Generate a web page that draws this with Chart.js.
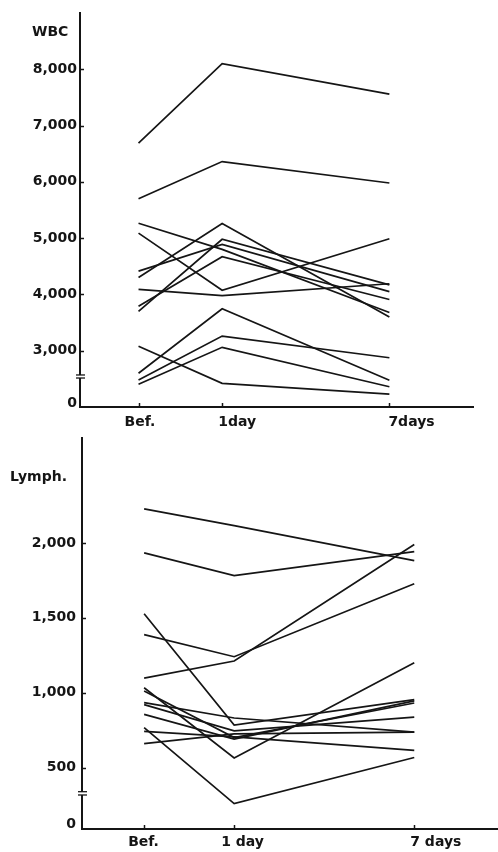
<!DOCTYPE html>
<html>
<head>
<meta charset="utf-8">
<script src="https://cdn.jsdelivr.net/npm/chart.js@4.4.0/dist/chart.umd.min.js"></script>
<style>
html, body { margin: 0; padding: 0; background: #fff; }
#wrap { position: relative; width: 498px; height: 852px; }
.box { position: absolute; left: 0; width: 498px; }
</style>
</head>
<body>
<div id="wrap">
  <div class="box" style="top:0;height:432px"><canvas id="wbcChart"></canvas></div>
  <div class="box" style="top:420px;height:432px"><canvas id="lymphChart"></canvas></div>
</div>
<script>
// time positions (Bef., 1 day, 7 days) on the x axis
const dayPos = [0, 1, 3];
const wbcDayLabels = ["Bef.", "1day", "7days"];
const lymphDayLabels = ["Bef.", "1 day", "7 days"];

// one value per patient (broken axis: "0" sits at the bottom tick)
const wbcBef  = [6690, 5700, 5265, 5090, 4415, 4300, 4090, 3790, 3700, 3080, 2600, 2480, 2405];
const wbcDay1 = [8100, 6360, 4800, 4075, 4890, 5260, 3980, 4670, 4980, 2420, 3745, 3260, 3060];
const wbcDay7 = [7560, 5980, 3680, 4990, 4050, 3600, 4190, 3910, 4170, 2230, 2475, 2875, 2360];

const lymphBef  = [2227, 1933, 1527, 1387, 1097, 1033, 1011, 933, 920, 855, 767, 742, 660];
const lymphDay1 = [2115, 1782, 784, 1240, 1211, 564, 700, 831, 745, 690, 260, 705, 725];
const lymphDay7 = [1882, 1942, 953, 1727, 1989, 1200, 931, 737, 837, 945, 567, 615, 737];

// tick values and their printed labels
const wbcTicks = [2060, 3000, 4000, 5000, 6000, 7000, 8000];
const wbcTickLabels = ["0", "3,000", "4,000", "5,000", "6,000", "7,000", "8,000"];
const lymphTicks = [120, 500, 1000, 1500, 2000];
const lymphTickLabels = ["0", "500", "1,000", "1,500", "2,000"];

const FONT = "'DejaVu Sans', sans-serif";
const INK = "#151515";

function buildDatasets(bef, d1, d7) {
    var sets = [];
    for (var i = 0; i < bef.length; i++) {
        sets.push({
            data: [
                { x: dayPos[0], y: bef[i] },
                { x: dayPos[1], y: d1[i] },
                { x: dayPos[2], y: d7[i] }
            ],
            borderColor: INK,
            borderWidth: 1.7,
            pointRadius: 0,
            tension: 0,
            fill: false
        });
    }
    return sets;
}

// draws the inward tick marks, x labels, axis title and the axis break
const decorPlugin = {
    id: "decor",
    afterDraw(chart, args, opts) {
        const ctx = chart.ctx;
        const xs = chart.scales.x, ys = chart.scales.y;
        const area = chart.chartArea;
        ctx.save();
        ctx.strokeStyle = INK;
        ctx.lineWidth = 1.5;
        // y ticks pointing into the plot
        opts.yTicks.forEach(function (v, i) {
            if (i === 0) return;
            const py = Math.round(ys.getPixelForValue(v)) + 0.5;
            ctx.beginPath();
            ctx.moveTo(area.left, py);
            ctx.lineTo(area.left + 4, py);
            ctx.stroke();
        });
        // x ticks pointing up
        dayPos.forEach(function (v) {
            const px = Math.round(xs.getPixelForValue(v)) + 0.5;
            ctx.beginPath();
            ctx.moveTo(px, area.bottom);
            ctx.lineTo(px, area.bottom - 4);
            ctx.stroke();
        });
        // x labels
        ctx.fillStyle = INK;
        ctx.font = "bold 14px " + FONT;
        ctx.textBaseline = "middle";
        ctx.textAlign = "left";
        opts.xLabels.forEach(function (lab, i) {
            const px = xs.getPixelForValue(dayPos[i]) + opts.xLabelShift[i];
            ctx.fillText(lab, px, area.bottom + opts.xLabelGap);
        });
        // axis title
        ctx.font = "bold 14px " + FONT;
        ctx.fillText(opts.title, opts.titleX, opts.titleY);
        // axis break
        const b1 = ys.getPixelForValue(opts.breakAt[0]);
        const b2 = ys.getPixelForValue(opts.breakAt[1]);
        ctx.fillStyle = "#fff";
        ctx.fillRect(area.left - 2, b1, 4, b2 - b1);
        ctx.lineWidth = 1.3;
        [b1, b2].forEach(function (py) {
            ctx.beginPath();
            ctx.moveTo(area.left - 4, py);
            ctx.lineTo(area.left + 5, py);
            ctx.stroke();
        });
        ctx.restore();
    }
};

function makeChart(canvasId, cfg) {
    const ctx = document.getElementById(canvasId).getContext("2d");
    return new Chart(ctx, {
        type: "line",
        data: { datasets: buildDatasets(cfg.bef, cfg.d1, cfg.d7) },
        plugins: [decorPlugin],
        options: {
            responsive: true,
            maintainAspectRatio: false,
            animation: false,
            layout: { padding: cfg.padding },
            plugins: {
                legend: { display: false },
                tooltip: { enabled: false },
                decor: cfg.decor
            },
            scales: {
                x: {
                    type: "linear",
                    min: cfg.xMin,
                    max: cfg.xMax,
                    ticks: { display: false },
                    grid: { display: true, drawOnChartArea: false, drawTicks: false },
                    border: { color: INK, width: 2 }
                },
                y: {
                    type: "linear",
                    min: cfg.yMin,
                    max: cfg.yMax,
                    afterBuildTicks: function (axis) {
                        axis.ticks = cfg.ticks.map(function (v) { return { value: v }; });
                    },
                    afterFit: function (axis) { axis.width = cfg.yWidth; },
                    ticks: {
                        padding: cfg.tickPad,
                        color: INK,
                        font: { family: FONT, size: 14, weight: "bold" },
                        callback: function (value) {
                            const i = cfg.ticks.indexOf(value);
                            return i >= 0 ? cfg.tickLabels[i] : "";
                        }
                    },
                    grid: { display: true, drawOnChartArea: false, drawTicks: false },
                    border: { color: INK, width: 2 }
                }
            }
        }
    });
}

makeChart("wbcChart", {
    bef: wbcBef, d1: wbcDay1, d7: wbcDay7,
    ticks: wbcTicks, tickLabels: wbcTickLabels,
    xMin: -0.7, xMax: 4.0, yMin: 2000, yMax: 9000,
    yWidth: 80, tickPad: 3,
    padding: { top: 13, right: 25, bottom: 25, left: 0 },
    decor: {
        yTicks: wbcTicks, xLabels: wbcDayLabels, xLabelShift: [-14, -4, -1], xLabelGap: 15,
        title: "WBC", titleX: 32, titleY: 32, breakAt: [2569, 2515]
    }
});

makeChart("lymphChart", {
    bef: lymphBef, d1: lymphDay1, d7: lymphDay7,
    ticks: lymphTicks, tickLabels: lymphTickLabels,
    xMin: -0.69, xMax: 3.93, yMin: 90, yMax: 2700,
    yWidth: 82, tickPad: 6,
    padding: { top: 18, right: 0, bottom: 23, left: 0 },
    decor: {
        yTicks: lymphTicks, xLabels: lymphDayLabels, xLabelShift: [-16, -13, -4], xLabelGap: 13,
        title: "Lymph.", titleX: 10, titleY: 57, breakAt: [339, 317]
    }
});
</script>
</body>
</html>
